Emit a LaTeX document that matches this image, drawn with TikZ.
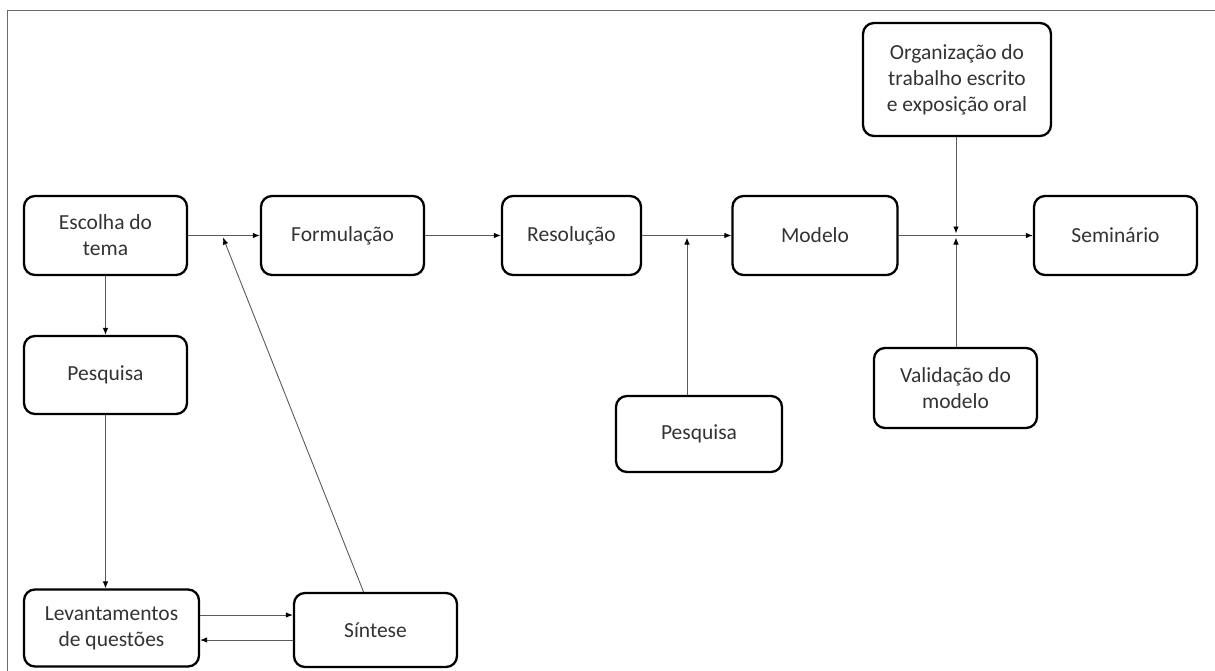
\documentclass[tikz,border=0pt]{standalone}
\usepackage{fontspec}
\setmainfont{Carlito}
\usetikzlibrary{arrows.meta}
\definecolor{txt}{HTML}{333333}
\definecolor{lin}{HTML}{5A5A5A}
\definecolor{frm}{HTML}{6A6A6A}
\begin{document}
\begin{tikzpicture}[x=1pt,y=-1pt,
  box/.style={draw=black, line width=2.3pt, rounded corners=11pt, fill=white,
    align=center, text=txt, font=\fontsize{21.5}{26}\selectfont, inner sep=0pt},
  conn/.style={draw=lin, line width=0.9pt, -{Latex[length=7pt,width=5.5pt,color=black]}}]
\useasboundingbox (0,0) rectangle (1215,671);
\draw[frm, line width=0.9pt] (1215,10) -- (7,10) -- (7,671);

\node[box, minimum width=163pt, minimum height=79pt] (esc) at (105.5,235.5) {Escolha do\\tema};
\node[box, minimum width=163pt, minimum height=79pt] (form) at (342.5,235.5) {Formulação};
\node[box, minimum width=139pt, minimum height=79pt] (res) at (571.5,235.5) {Resolução};
\node[box, minimum width=165pt, minimum height=79pt] (mod) at (815,235.5) {Modelo};
\node[box, minimum width=163pt, minimum height=79pt] (sem) at (1115.5,235.5) {Seminário};
\node[box, minimum width=188pt, minimum height=113pt] (org) at (957,79.5) {Organização do\\trabalho escrito\\e exposição oral};
\node[box, minimum width=163pt, minimum height=80pt] (val) at (955.5,388) {Validação do\\modelo};
\node[box, minimum width=166pt, minimum height=76pt] (pm) at (699,434) {Pesquisa};
\node[box, minimum width=163pt, minimum height=78pt] (pl) at (105.5,375) {Pesquisa};
\node[box, minimum width=175pt, minimum height=77pt] (lev) at (111.5,628) {Levantamentos\\de questões};
\node[box, minimum width=163pt, minimum height=74pt] (sin) at (375.5,630) {Síntese};

\coordinate (j1) at (223,237.5);
\coordinate (j2) at (687,237.5);
\coordinate (j3) at (956,233.5);
\coordinate (j4) at (956,237.5);

\draw[conn] (esc) -- (form);
\draw[conn] ([xshift=-12pt]sin.north) -- (j1);
\draw[conn] (form) -- (res);
\draw[conn] (res) -- (mod);
\draw[conn] (pm.north -| j2) -- (j2);
\draw[conn] (mod) -- (sem);
\draw[conn] (org.south -| j3) -- (j3);
\draw[conn] (val.north -| j4) -- (j4);
\draw[conn] (esc) -- (pl);
\draw[conn] (pl.south) -- (pl.south |- lev.north);
\draw[conn] ([yshift=13pt]lev.east) coordinate (a1) -- (a1 -| sin.west);
\draw[conn] ([yshift=-12pt]lev.east -| sin.west) -- ([yshift=-12pt]lev.east);
\end{tikzpicture}
\end{document}
